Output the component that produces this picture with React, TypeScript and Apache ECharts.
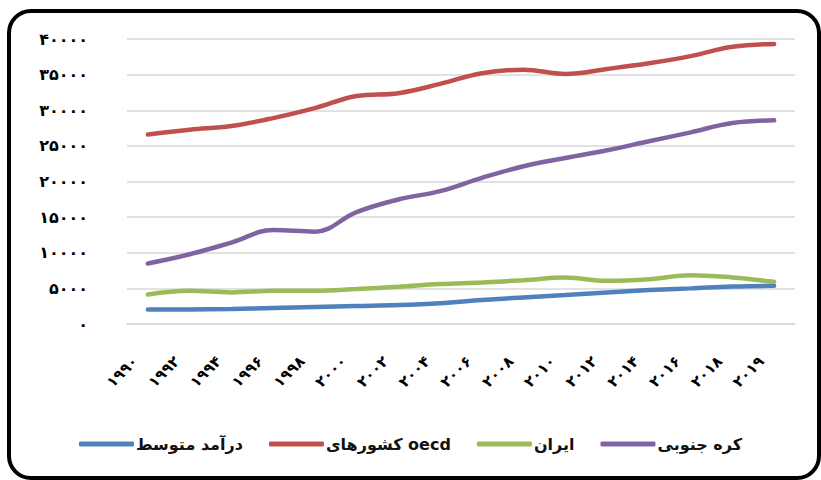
import React, { useEffect, useRef } from "react";
import * as echarts from "echarts";

const years = ["۱۹۹۰", "۱۹۹۲", "۱۹۹۴", "۱۹۹۶", "۱۹۹۸", "۲۰۰۰", "۲۰۰۲", "۲۰۰۴", "۲۰۰۶", "۲۰۰۸", "۲۰۱۰", "۲۰۱۲", "۲۰۱۴", "۲۰۱۶", "۲۰۱۸", "۲۰۱۹"];
const seriesNames = ["درآمد متوسط", "کشورهای oecd", "ایران", "کره جنوبی"];
const middleIncome = [2050, 2050, 2100, 2240, 2380, 2520, 2660, 2920, 3360, 3730, 4060, 4430, 4760, 5000, 5270, 5360];
const oecd = [26600, 27270, 27800, 28900, 30300, 32000, 32400, 33700, 35200, 35700, 35100, 35800, 36600, 37600, 38900, 39300];
const iran = [4150, 4660, 4430, 4660, 4660, 4900, 5220, 5600, 5830, 6150, 6530, 6060, 6290, 6850, 6530, 5920];
const korea = [8490, 9790, 11430, 13190, 12960, 15710, 17480, 18650, 20510, 22140, 23310, 24380, 25640, 26900, 28200, 28580];
const yTickLabels = ["۰", "۵۰۰۰", "۱۰۰۰۰", "۱۵۰۰۰", "۲۰۰۰۰", "۲۵۰۰۰", "۳۰۰۰۰", "۳۵۰۰۰", "۴۰۰۰۰"];
const colors = ["#4F81BD", "#C0504D", "#9BBB59", "#8064A2"];

const FONT = "DejaVu Sans";

export default function App() {
  const ref = useRef<HTMLDivElement>(null);
  useEffect(() => {
    if (!ref.current) return;
    const chart = echarts.init(ref.current, undefined, { renderer: "svg" });
    const values = [middleIncome, oecd, iran, korea];
    chart.setOption({
      animation: false,
      backgroundColor: "#ffffff",
      color: colors,
      grid: { left: 127, right: 26, top: 39, bottom: 156, containLabel: false, outerBoundsMode: "none" },
      legend: {
        bottom: 23,
        left: "center",
        icon: "roundRect",
        itemWidth: 55,
        itemHeight: 5,
        itemGap: 26,
        textStyle: { fontFamily: FONT, fontWeight: "bold", fontSize: 16, color: "#111", padding: [0, 0, 0, -3] },
        data: seriesNames,
      },
      xAxis: {
        type: "category",
        data: years,
        boundaryGap: true,
        axisLine: { show: true, lineStyle: { color: "#D9D9D9", width: 1.5 } },
        axisTick: { show: false },
        axisLabel: {
          interval: 0,
          rotate: 45,
          margin: 22,
          padding: [0, 18, 0, 0],
          fontFamily: FONT,
          fontWeight: "bold",
          fontSize: 15,
          color: "#000",
        },
      },
      yAxis: {
        type: "value",
        min: 0,
        max: 40000,
        interval: 5000,
        axisLine: { show: false },
        axisTick: { show: false },
        splitLine: { lineStyle: { color: "#D9D9D9", width: 1.5 } },
        axisLabel: {
          margin: 39,
          fontFamily: FONT,
          fontWeight: "bold",
          fontSize: 16,
          color: "#000",
          formatter: (v: number) => yTickLabels[Math.round(v / 5000)] ?? "",
        },
      },
      graphic: [
        {
          type: "rect",
          shape: { x: 9, y: 11, width: 810, height: 467, r: 22 },
          style: { fill: "none", stroke: "#000", lineWidth: 4 },
          silent: true,
          z: 100,
        },
      ],
      series: seriesNames.map((name, i) => ({
        name,
        type: "line",
        data: values[i],
        smooth: 0.4,
        symbol: "none",
        lineStyle: { width: 4.5, color: colors[i], cap: "round" },
        itemStyle: { color: colors[i] },
      })),
    });
    return () => chart.dispose();
  }, []);
  return <div ref={ref} style={{ position: "fixed", left: 0, top: 0, width: 821, height: 480 }} />;
}
